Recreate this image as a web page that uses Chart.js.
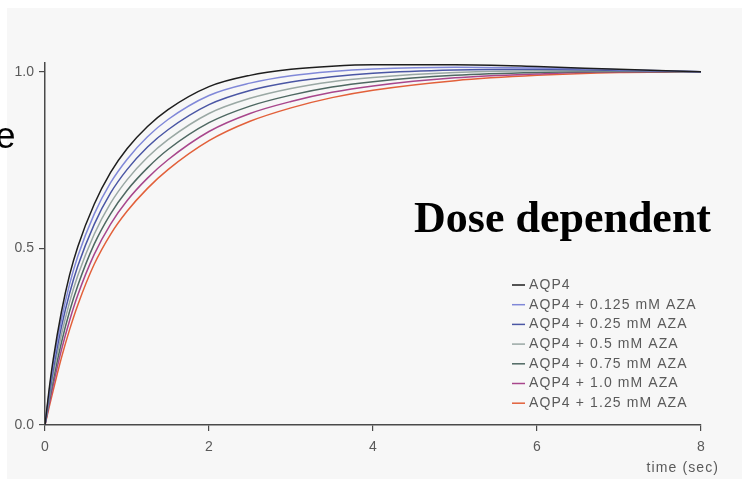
<!DOCTYPE html>
<html>
<head>
<meta charset="utf-8">
<script src="https://cdn.jsdelivr.net/npm/chart.js@4"></script>
<style>
  html, body { margin: 0; padding: 0; background: #fff; }
  #wrap { width: 742px; height: 479px; }
</style>
</head>
<body>
<div id="wrap"><canvas id="chart" width="742" height="479"></canvas></div>
<script>
// time points (sec)
const times = [0, 0.05, 0.1, 0.2, 0.3, 0.4, 0.6, 0.8, 1, 1.25, 1.5, 2, 2.5, 3, 3.5, 4, 5, 6, 7, 8];

// normalised signal for each condition
const aqp4    = [0, 0.100, 0.185, 0.320, 0.425, 0.505, 0.625, 0.715, 0.782, 0.845, 0.893, 0.958, 0.990, 1.007, 1.016, 1.020, 1.020, 1.015, 1.007, 1.0];
const aza0125 = [0, 0.092, 0.171, 0.298, 0.399, 0.478, 0.597, 0.686, 0.752, 0.816, 0.865, 0.933, 0.968, 0.989, 1.001, 1.008, 1.013, 1.011, 1.006, 1.0];
const aza025  = [0, 0.083, 0.156, 0.277, 0.373, 0.450, 0.568, 0.657, 0.723, 0.787, 0.836, 0.907, 0.947, 0.971, 0.986, 0.996, 1.005, 1.007, 1.004, 1.0];
const aza05   = [0, 0.075, 0.142, 0.255, 0.348, 0.423, 0.540, 0.628, 0.694, 0.758, 0.808, 0.882, 0.925, 0.953, 0.972, 0.984, 0.998, 1.003, 1.003, 1.0];
const aza075  = [0, 0.067, 0.127, 0.233, 0.322, 0.395, 0.512, 0.598, 0.664, 0.728, 0.780, 0.856, 0.903, 0.934, 0.957, 0.972, 0.990, 0.998, 1.001, 1.0];
const aza10   = [0, 0.058, 0.113, 0.212, 0.296, 0.368, 0.483, 0.569, 0.635, 0.699, 0.751, 0.831, 0.882, 0.916, 0.942, 0.960, 0.983, 0.994, 1.000, 1.0];
const aza125  = [0, 0.050, 0.098, 0.190, 0.270, 0.340, 0.455, 0.540, 0.605, 0.670, 0.723, 0.805, 0.860, 0.898, 0.927, 0.948, 0.975, 0.990, 0.998, 1.0];

const seriesLabels = [
  'AQP4',
  'AQP4 + 0.125 mM AZA',
  'AQP4 + 0.25 mM AZA',
  'AQP4 + 0.5 mM AZA',
  'AQP4 + 0.75 mM AZA',
  'AQP4 + 1.0 mM AZA',
  'AQP4 + 1.25 mM AZA'
];
const seriesValues = [aqp4, aza0125, aza025, aza05, aza075, aza10, aza125];
const seriesColors = ['#1e1e1e', '#8088d8', '#4a56a4', '#9aa8a4', '#4e6862', '#a8468c', '#e2603a'];

const xTicks = [0, 2, 4, 6, 8];
const yTicks = [0, 0.5, 1.0];

const axisColor = '#4a4a4a';
const labelColor = '#5a5a5a';

// grey panel behind the plot plus the loose texts and legend
const decor = {
  id: 'decor',
  beforeDraw(chart) {
    const ctx = chart.ctx;
    ctx.save();
    ctx.fillStyle = '#f7f7f7';
    ctx.fillRect(7, 8, 735, 471);
    ctx.restore();
  },
  afterDraw(chart) {
    const ctx = chart.ctx;
    ctx.save();

    // legend, lower right
    ctx.font = '14px "Liberation Sans", Arial, sans-serif';
    ctx.letterSpacing = '1.1px';
    ctx.textBaseline = 'middle';
    chart.data.datasets.forEach((ds, i) => {
      const y = 285 + i * 19.7;
      ctx.strokeStyle = ds.borderColor;
      ctx.lineWidth = 1.5;
      ctx.beginPath();
      ctx.moveTo(512, y);
      ctx.lineTo(525, y);
      ctx.stroke();
      ctx.fillStyle = labelColor;
      ctx.fillText(ds.label, 529, y);
    });

    // axis title
    ctx.textAlign = 'right';
    ctx.textBaseline = 'alphabetic';
    ctx.fillText('time (sec)', 719, 472);

    // heading text
    ctx.letterSpacing = '0px';
    ctx.fillStyle = '#000';
    ctx.textAlign = 'left';
    ctx.font = 'bold 44px "Liberation Serif", "Times New Roman", serif';
    ctx.fillText('Dose dependent', 414, 232);

    // cut-off letter at the left edge
    ctx.font = '36px "Liberation Sans", Arial, sans-serif';
    ctx.fillText('e', -4.5, 148);
    ctx.restore();
  }
};

const ctx = document.getElementById('chart').getContext('2d');
new Chart(ctx, {
  type: 'line',
  data: {
    datasets: seriesLabels.map((label, i) => ({
      label: label,
      data: times.map((t, j) => ({ x: t, y: seriesValues[i][j] })),
      borderColor: seriesColors[i],
      backgroundColor: seriesColors[i],
      borderWidth: 1.5,
      pointRadius: 0,
      fill: false,
      cubicInterpolationMode: 'monotone'
    }))
  },
  options: {
    responsive: false,
    animation: false,
    events: [],
    layout: { padding: { top: 63, right: 41, left: 0, bottom: 0 } },
    plugins: {
      legend: { display: false },
      tooltip: { enabled: false }
    },
    scales: {
      x: {
        type: 'linear',
        min: 0,
        max: 8,
        afterBuildTicks: (s) => { s.ticks = xTicks.map(v => ({ value: v })); },
        afterFit: (s) => { s.height = 54; },
        grid: { drawOnChartArea: false, tickLength: 6, color: axisColor, lineWidth: 1.2 },
        border: { color: axisColor, width: 1.5 },
        ticks: {
          color: labelColor,
          padding: 8,
          maxRotation: 0,
          font: { size: 14, family: '"Liberation Sans", Arial, sans-serif' },
          callback: (v) => String(v)
        }
      },
      y: {
        min: 0,
        max: 1.025,
        afterBuildTicks: (s) => { s.ticks = yTicks.map(v => ({ value: v })); },
        afterFit: (s) => { s.width = 45; },
        grid: { drawOnChartArea: false, tickLength: 6, color: axisColor, lineWidth: 1.2 },
        border: { color: axisColor, width: 1.5 },
        ticks: {
          color: labelColor,
          padding: 5,
          font: { size: 14, family: '"Liberation Sans", Arial, sans-serif' },
          callback: (v) => Number(v).toFixed(1)
        }
      }
    }
  },
  plugins: [decor]
});
</script>
</body>
</html>
